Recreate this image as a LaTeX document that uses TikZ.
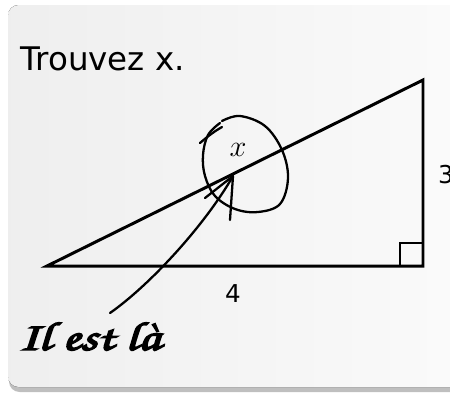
\documentclass[tikz,border=0pt]{standalone}
\usepackage{fontspec}
\setmainfont{DejaVu Sans}
\newcommand{\heavyink}[1]{\special{pdf:literal direct 2 Tr 0.8 w}#1\special{pdf:literal direct 0 Tr}}
\tikzstyle{card} = [rounded corners=6pt, left color=gray!13, right color=gray!3]
\tikzstyle{side} = [line width=1.7pt, line join=miter]
\tikzstyle{pen} = [line width=1.3pt, line cap=round, line join=round]
\tikzstyle{length} = [font=\fontsize{14}{16}\selectfont]
\tikzstyle{script} = [anchor=base west, inner sep=0pt, xscale=1.3, transform shape, font=\fontsize{23}{26}\usefont{OT1}{pzc}{m}{it}]

\begin{document}
\begin{tikzpicture}[x=0.02cm, y=-0.02cm]
  \useasboundingbox (0,0) rectangle (450,393);
  % card with shadow
  \fill[gray!50, rounded corners=6pt] (9,10) rectangle (490,392);
  \fill[card] (8,5) rectangle (490,387);
  % triangle
  \coordinate (A) at (47,266);
  \coordinate (B) at (423,266);
  \coordinate (C) at (423,80);
  \draw[side] (A) -- (B) -- (C) -- cycle;
  \draw[line width=1.2pt] (400,266) -- (400,243) -- (423,243);
  \node (title)[anchor=base west, inner sep=0pt, font=\fontsize{18.5}{20}\selectfont] at (20,70) {Trouvez x.};
  \node (side4)[length] at (233,294) {4};
  \node (side3)[length] at (446,175) {3};
  \node (xvar)[font=\fontsize{19}{22}\selectfont] at (238,150) {$x$};
  \node (here)[script] at (18,350) {\heavyink{Il est l\`a}};
  % the hand drawn loop and arrow
  \coordinate (tail) at (110,313);
  \coordinate (tip) at (233,176);
  \draw[pen] (200,143) .. controls (208,136) and (215,131) .. (222,127);
  \draw[pen] plot[smooth, tension=0.6] coordinates {(222,121) (240,116) (265,126) (282,150) (288,178) (280,204) (258,212) (235,209) (215,196) (205,176) (203,155) (208,135) (220,123)};
  \draw[pen] (tail) .. controls (150,285) and (205,225) .. (tip);
  \draw[pen] (205,198) -- (tip) -- (230,220);
\end{tikzpicture}
\end{document}
